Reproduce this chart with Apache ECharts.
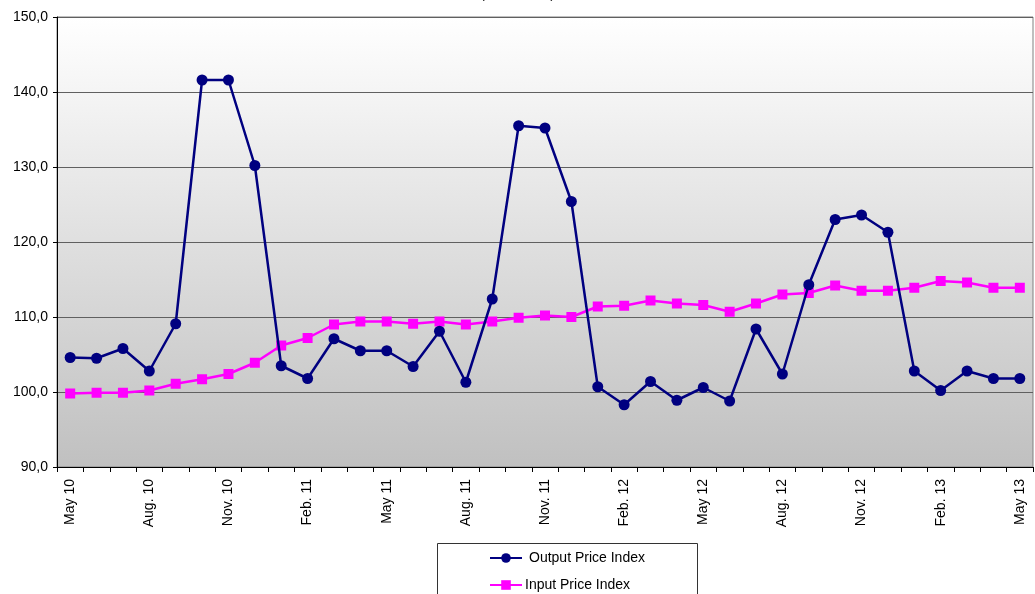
<!DOCTYPE html>
<html>
<head>
<meta charset="utf-8">
<script src="https://cdn.jsdelivr.net/npm/echarts@6/dist/echarts.min.js"></script>
<style>
  html, body { margin: 0; padding: 0; background: #fff; }
  #chart { width: 1035px; height: 594px; }
</style>
</head>
<body>
<div id="chart"></div>
<script>
// monthly categories, May 10 .. May 13
const months = [
  'May 10', 'Jun. 10', 'Jul. 10', 'Aug. 10', 'Sep. 10', 'Oct. 10', 'Nov. 10', 'Dec. 10',
  'Jan. 11', 'Feb. 11', 'Mar. 11', 'Apr. 11', 'May 11', 'Jun. 11', 'Jul. 11', 'Aug. 11',
  'Sep. 11', 'Oct. 11', 'Nov. 11', 'Dec. 11', 'Jan. 12', 'Feb. 12', 'Mar. 12', 'Apr. 12',
  'May 12', 'Jun. 12', 'Jul. 12', 'Aug. 12', 'Sep. 12', 'Oct. 12', 'Nov. 12', 'Dec. 12',
  'Jan. 13', 'Feb. 13', 'Mar. 13', 'Apr. 13', 'May 13'
];

const outputPriceIndex = [
  104.6, 104.5, 105.8, 102.8, 109.1, 141.6, 141.6, 130.2,
  103.5, 101.8, 107.1, 105.5, 105.5, 103.4, 108.1, 101.3,
  112.4, 135.5, 135.2, 125.4, 100.7, 98.3, 101.4, 98.9,
  100.6, 98.8, 108.4, 102.4, 114.3, 123.0, 123.6, 121.3,
  102.8, 100.2, 102.8, 101.8, 101.8
];

const inputPriceIndex = [
  99.8, 99.9, 99.9, 100.2, 101.1, 101.7, 102.4, 103.9,
  106.2, 107.2, 109.0, 109.4, 109.4, 109.1, 109.4, 109.0,
  109.4, 109.9, 110.2, 110.0, 111.4, 111.5, 112.2, 111.8,
  111.6, 110.7, 111.8, 113.0, 113.2, 114.2, 113.5, 113.5,
  113.9, 114.8, 114.6, 113.9, 113.9
];

const yMin = 90;
const yMax = 150;
const yStep = 10;

const chart = echarts.init(document.getElementById('chart'));

const fontFamily = 'Arial, "Liberation Sans", sans-serif';

const legendBase = {
  orient: 'vertical',
  left: 489,
  padding: 0,
  itemWidth: 32,
  itemHeight: 12,
  textStyle: { fontSize: 14, color: '#000', fontFamily: fontFamily },
  z: 5
};

const option = {
  animation: false,
  backgroundColor: '#fff',
  textStyle: { fontFamily: fontFamily, color: '#000' },
  // title is cut off at the top edge in the original
  title: {
    text: '(2010 = 100)',
    left: 'center',
    top: -17,
    textStyle: { fontSize: 13, fontWeight: 'normal', color: '#000', fontFamily: fontFamily }
  },
  graphic: [
    {
      type: 'rect',
      left: 437,
      top: 543,
      shape: { width: 260, height: 60 },
      style: { fill: '#fff', stroke: '#333', lineWidth: 1 },
      z: 0
    }
  ],
  legend: [
    Object.assign({}, legendBase, {
      top: 551,
      data: ['Output Price Index'],
      textStyle: Object.assign({}, legendBase.textStyle, { padding: [0, 0, 0, 2] })
    }),
    Object.assign({}, legendBase, {
      top: 578,
      data: ['Input Price Index'],
      textStyle: Object.assign({}, legendBase.textStyle, { padding: [0, 0, 0, -2] })
    })
  ],
  grid: {
    left: 57,
    right: 2,
    top: 17,
    bottom: 127,
    show: true,
    borderColor: '#808080',
    borderWidth: 1,
    backgroundColor: new echarts.graphic.LinearGradient(0, 0, 0, 1, [
      { offset: 0, color: '#ffffff' },
      { offset: 1, color: '#c0c0c0' }
    ])
  },
  xAxis: {
    type: 'category',
    data: months,
    boundaryGap: true,
    axisLine: { lineStyle: { color: '#000', width: 1 } },
    axisTick: { show: true, interval: 0, length: 5, lineStyle: { color: '#000' } },
    axisLabel: {
      interval: 2,
      rotate: 90,
      margin: 12,
      fontSize: 14,
      color: '#000',
      fontFamily: fontFamily
    },
    splitLine: { show: false }
  },
  yAxis: {
    type: 'value',
    min: yMin,
    max: yMax,
    interval: yStep,
    axisLine: { show: true, lineStyle: { color: '#000', width: 1 } },
    axisTick: { show: true, length: 4, lineStyle: { color: '#000' } },
    axisLabel: {
      margin: 9,
      fontSize: 14,
      color: '#000',
      fontFamily: fontFamily,
      formatter: v => v.toFixed(1).replace('.', ',')
    },
    splitLine: { show: true, lineStyle: { color: '#606060', width: 1 } }
  },
  series: [
    {
      name: 'Output Price Index',
      type: 'line',
      data: outputPriceIndex,
      symbol: 'circle',
      symbolSize: 11,
      lineStyle: { color: '#000080', width: 2.5 },
      itemStyle: { color: '#000080' },
      z: 3
    },
    {
      name: 'Input Price Index',
      type: 'line',
      data: inputPriceIndex,
      symbol: 'rect',
      symbolSize: 10,
      lineStyle: { color: '#ff00ff', width: 2.5 },
      itemStyle: { color: '#ff00ff' },
      z: 2
    }
  ]
};

chart.setOption(option);
</script>
</body>
</html>
